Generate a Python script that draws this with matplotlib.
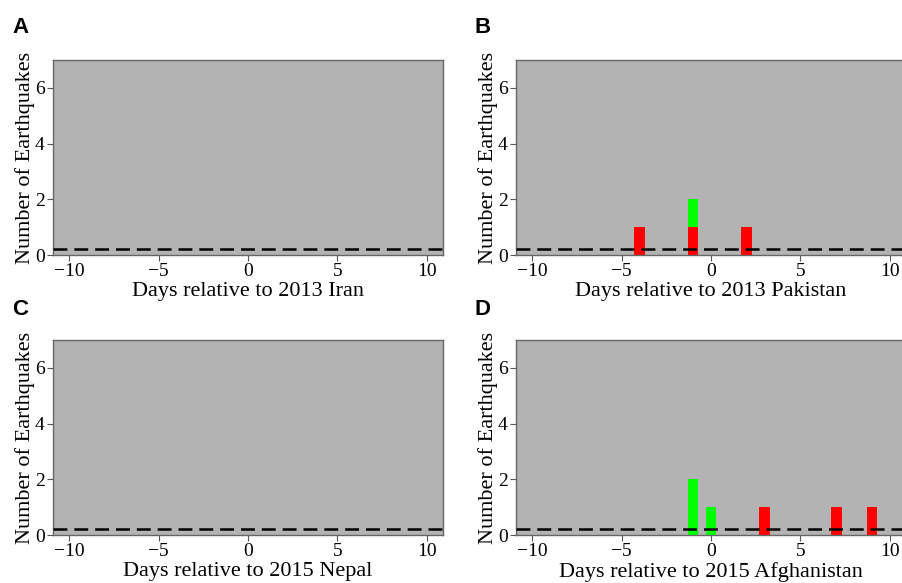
import matplotlib
matplotlib.use("Agg")
import matplotlib.pyplot as plt
import numpy as np

plt.rcParams['lines.scale_dashes'] = False

# Data
panel_letters = ["A", "B", "C", "D"]
xlabels = ["Days relative to 2013 Iran", "Days relative to 2013 Pakistan",
           "Days relative to 2015 Nepal", "Days relative to 2015 Afghanistan"]
# red bars (bottom layer) and green bars (stacked on top)
red_days = [[], [-4, -1, 2], [], [3, 7, 9]]
red_counts = [[], [1, 1, 1], [], [1, 1, 1]]
green_days = [[], [-1], [], [-1, 0]]
green_counts = [[], [1], [], [2, 1]]
threshold = [0.2, 0.2, 0.2, 0.2]
xticks = [-10, -5, 0, 5, 10]
yticks = [0, 2, 4, 6]

W, H = 903, 583
fig = plt.figure(figsize=(W / 100, H / 100), dpi=100)

ax_left = [53, 516, 53, 516]
ax_top = [60, 60, 340, 340]
ax_w, ax_h = 390, 195
letter_pos = [(12, 33), (475, 33), (12, 315), (475, 315)]

serif = ['Liberation Serif', 'DejaVu Serif']

for i in range(4):
    l = ax_left[i] / W
    b = (H - ax_top[i] - ax_h) / H
    ax = fig.add_axes([l, b, ax_w / W, ax_h / H])
    ax.set_facecolor('#b3b3b3')
    ax.set_xlim(-10.9, 10.9)
    ax.set_ylim(0, 7)
    rd = np.array(red_days[i], dtype=float)
    rc = np.array(red_counts[i], dtype=float)
    if len(rd):
        ax.bar(rd, rc, width=0.6, color='#ff0000', zorder=2)
    gd = np.array(green_days[i], dtype=float)
    gc = np.array(green_counts[i], dtype=float)
    if len(gd):
        bottoms = np.array([sum(c for d, c in zip(red_days[i], red_counts[i]) if d == g) for g in green_days[i]], dtype=float)
        ax.bar(gd, gc, width=0.6, bottom=bottoms, color='#00ff00', zorder=2)
    ax.axhline(threshold[i], color='black', lw=1.8, dashes=(10, 5), zorder=3)
    ax.set_xticks(xticks)
    ax.set_yticks(yticks)
    ax.set_xticklabels([str(t).replace('-', '\u2212') for t in xticks], family=serif, fontsize=14)
    ax.set_yticklabels([str(t) for t in yticks], family=serif, fontsize=14)
    ax.tick_params(direction='out', length=4, width=0.8, color='#555555', pad=2)
    for s in ax.spines.values():
        s.set_color('#666666')
        s.set_linewidth(1.0)
    ax.set_xlabel(xlabels[i], family=serif, fontsize=16, labelpad=1.5)
    ax.set_ylabel("Number of Earthquakes", family=serif, fontsize=16, labelpad=0)
    lx, ly = letter_pos[i]
    fig.text(lx / W, 1 - ly / H, panel_letters[i], family=['Liberation Sans', 'DejaVu Sans'],
             fontweight='bold', fontsize=16, ha='left', va='baseline')

fig.savefig('out.png', dpi=100, facecolor='white')
